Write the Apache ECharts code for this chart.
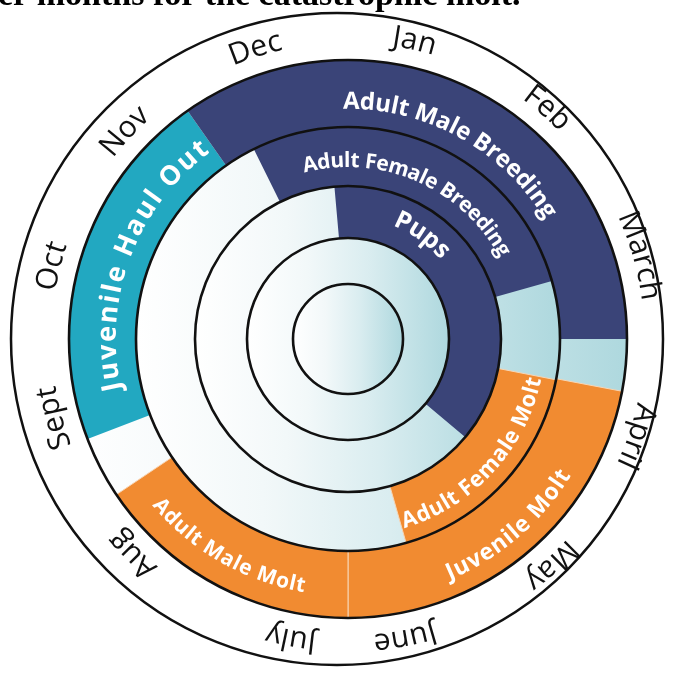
<!DOCTYPE html>
<html><head><meta charset="utf-8">
<script src="https://cdn.jsdelivr.net/npm/echarts@6/dist/echarts.min.js"></script>
<style>html,body{margin:0;padding:0;background:#fff;overflow:hidden}#c{width:673px;height:673px}</style>
</head><body><div id="c"></div><script>
// ---------------- DATA ----------------
const months = ['Jan','Feb','March','April','May','June','July','Aug','Sept','Oct','Nov','Dec'];
// angular position of each month label (months counted clockwise from top)
const monthPos = [0.42, 1.36, 2.47, 3.62, 4.60, 5.64, 6.36, 7.50, 8.50, 9.46, 10.43, 11.41];

// activity segments (months counted clockwise from start of Jan at top; >12 wraps)
const segNames  = ['Juvenile Haul Out','Adult Male Breeding','Juvenile Molt','Adult Male Molt',
                   'Adult Female Breeding','Adult Female Molt','Pups'];
const segRing   = ['outer','outer','outer','outer','middle','middle','inner'];
const segStart  = [8.30, 10.83, 3.36, 6.00, 11.12, 3.37, 11.83];
const segEnd    = [10.83, 15.00, 6.00, 7.87, 14.47, 5.47, 16.33];
const segKind   = ['juvenile','breeding','molt','molt','breeding','molt','breeding'];

const rings = ['core','ring4','inner','middle','outer'];
const titleText = 'er months for the catastrophic molt.';

// ---------------- LAYOUT / STYLE ----------------
const RING_EDGE = {core:[0,55], ring4:[55,101], inner:[101,153], middle:[153,212], outer:[212,279]};
const KIND_COLOR = {juvenile:'#22a8c1', breeding:'#3a4478', molt:'#f18b31'};
// label layout: [mid(month units), span(month units), radius, fontSize, inward]
const LABEL_LAYOUT = {
  'Juvenile Haul Out':     [9.683, 2.20, 240, 27, false],
  'Adult Male Breeding':   [0.960, 2.00, 237, 24, false],
  'Adult Female Breeding': [0.787, 2.55, 178, 21, false],
  'Pups':                  [1.183, 0.92, 129, 25, false],
  'Adult Male Molt':       [6.993, 1.33, 251, 21, true],
  'Juvenile Molt':         [4.642, 1.19, 255, 23, true],
  'Adult Female Molt':     [4.420, 2.06, 191, 22, true]
};
const MONTH_R = 305, MONTH_FONT = '30px "Open Sans"', MONTH_SP = 0.5;

const measureCtx = document.createElement('canvas').getContext('2d');

function pinfo(params, api, rv, mv){
  const cs = params.coordSys;
  const p = api.coord([rv, mv]);
  const dx = p[0]-cs.cx, dy = p[1]-cs.cy;
  return {r:Math.hypot(dx,dy), a:Math.atan2(dy,dx), cx:cs.cx, cy:cs.cy};
}
function sector(params, api, r0v, r1v, m0, m1, fill){
  const a = pinfo(params, api, 100, m0);
  const b = pinfo(params, api, 100, m1);
  const r0 = r0v === 0 ? 0 : pinfo(params, api, r0v, m0).r;
  const r1 = pinfo(params, api, r1v, m0).r;
  const span = (m1 - m0) >= 12 ? Math.PI*2 : (((b.a - a.a) % (2*Math.PI)) + 2*Math.PI) % (2*Math.PI);
  return {type:'sector', shape:{cx:a.cx, cy:a.cy, r0:r0, r:r1, startAngle:a.a, endAngle:a.a+span, clockwise:true},
    style:{fill:fill}};
}
function arcText(params, api, text, font, rv, mid, spanM, inward, color, spacingFixed){
  const m = pinfo(params, api, rv, mid);
  const R = m.r;
  measureCtx.font = font;
  const chars = Array.from(text);
  const w = chars.map(c => measureCtx.measureText(c).width);
  const tot = w.reduce((s,x)=>s+x,0);
  let sp = spacingFixed || 0;
  if (spanM) {
    const target = spanM/12*2*Math.PI*R;
    sp = (target - tot)/(chars.length-1);
  }
  const totW = tot + sp*(chars.length-1);
  const kids = [];
  let acc = 0;
  chars.forEach((c,i)=>{
    const off = acc + w[i]/2 - totW/2;
    acc += w[i] + sp;
    if (c === ' ') return;
    const ang = inward ? m.a - off/R : m.a + off/R;
    kids.push({type:'text', x: m.cx + R*Math.cos(ang), y: m.cy + R*Math.sin(ang),
      rotation: inward ? (Math.PI/2 - ang) : -(ang + Math.PI/2),
      style:{text:c, font:font, fill:color, align:'center', verticalAlign:'middle'}});
  });
  return {type:'group', children:kids};
}

const gradFill = () => new echarts.graphic.LinearGradient(0,0,1,0,[
  {offset:0, color:'#ffffff'},{offset:0.3, color:'#f2f8f9'},{offset:0.6, color:'#daedf0'},{offset:1, color:'#aed8de'}]);

const chart = echarts.init(document.getElementById('c'), null, {renderer:'canvas'});
chart.setOption({
  animation:false,
  backgroundColor:'#ffffff',
  polar:[{center:[348,339], radius:330},{center:[337,339], radius:326}],
  angleAxis:[
    {polarIndex:0, type:'value', min:0, max:12, startAngle:90, clockwise:true,
     axisLine:{show:false}, axisTick:{show:false}, axisLabel:{show:false}, splitLine:{show:false}},
    {polarIndex:1, type:'value', min:0, max:12, startAngle:90, clockwise:true,
     axisLine:{show:true, lineStyle:{color:'#111', width:2.5}}, axisTick:{show:false}, axisLabel:{show:false}, splitLine:{show:false}}
  ],
  radiusAxis:[
    {polarIndex:0, type:'value', min:0, max:330, axisLine:{show:false}, axisTick:{show:false}, axisLabel:{show:false}, splitLine:{show:false}},
    {polarIndex:1, type:'value', min:0, max:1, axisLine:{show:false}, axisTick:{show:false}, axisLabel:{show:false}, splitLine:{show:false}}
  ],
  graphic:[{type:'text', x:-2, y:13, style:{text:titleText, font:'bold 34px "Liberation Serif"', fill:'#000', verticalAlign:'bottom'}}],
  series:[
    { // base rings with gradient
      type:'custom', coordinateSystem:'polar', polarIndex:0, silent:true,
      encode:{radius:0, angle:1},
      data: rings.map((r,i)=>[i, 0, 12]),
      renderItem:(params, api)=>{
        const e = RING_EDGE[rings[params.dataIndex]];
        return sector(params, api, e[0], e[1], api.value(1), api.value(2), gradFill());
      }
    },
    { // activity segments
      type:'custom', coordinateSystem:'polar', polarIndex:0, silent:true,
      encode:{radius:0, angle:1},
      data: segNames.map((n,i)=>[rings.indexOf(segRing[i]), segStart[i], segEnd[i]]),
      renderItem:(params, api)=>{
        const i = params.dataIndex;
        const e = RING_EDGE[segRing[i]];
        const kind = segKind[i];
        const el = sector(params, api, e[0], e[1], api.value(1), api.value(2), KIND_COLOR[kind]);
        if (kind === 'molt') { el.style.stroke = '#f7d6b6'; el.style.lineWidth = 1; }
        return el;
      }
    },
    { // ring outlines
      type:'custom', coordinateSystem:'polar', polarIndex:0, silent:true,
      encode:{radius:0, angle:1},
      data: rings.map((r,i)=>[i, 0]),
      renderItem:(params, api)=>{
        const e = RING_EDGE[rings[params.dataIndex]];
        const p = pinfo(params, api, e[1], 0);
        return {type:'circle', shape:{cx:p.cx, cy:p.cy, r:p.r}, style:{fill:null, stroke:'#111', lineWidth:2.6}};
      }
    },
    { // activity labels
      type:'custom', coordinateSystem:'polar', polarIndex:0, silent:true,
      encode:{radius:0, angle:1},
      data: segNames.map((n,i)=>[LABEL_LAYOUT[n][2], LABEL_LAYOUT[n][0]]),
      renderItem:(params, api)=>{
        const n = segNames[params.dataIndex];
        const L = LABEL_LAYOUT[n];
        return arcText(params, api, n, 'bold '+L[3]+'px "Open Sans"', api.value(0), api.value(1), L[1], L[4], '#ffffff');
      }
    },
    { // month labels
      type:'custom', coordinateSystem:'polar', polarIndex:0, silent:true,
      encode:{radius:0, angle:1},
      data: months.map((m,i)=>[MONTH_R, monthPos[i]]),
      renderItem:(params, api)=>arcText(params, api, months[params.dataIndex], MONTH_FONT, api.value(0), api.value(1), 0, false, '#111', MONTH_SP)
    }
  ]
});
</script></body></html>
